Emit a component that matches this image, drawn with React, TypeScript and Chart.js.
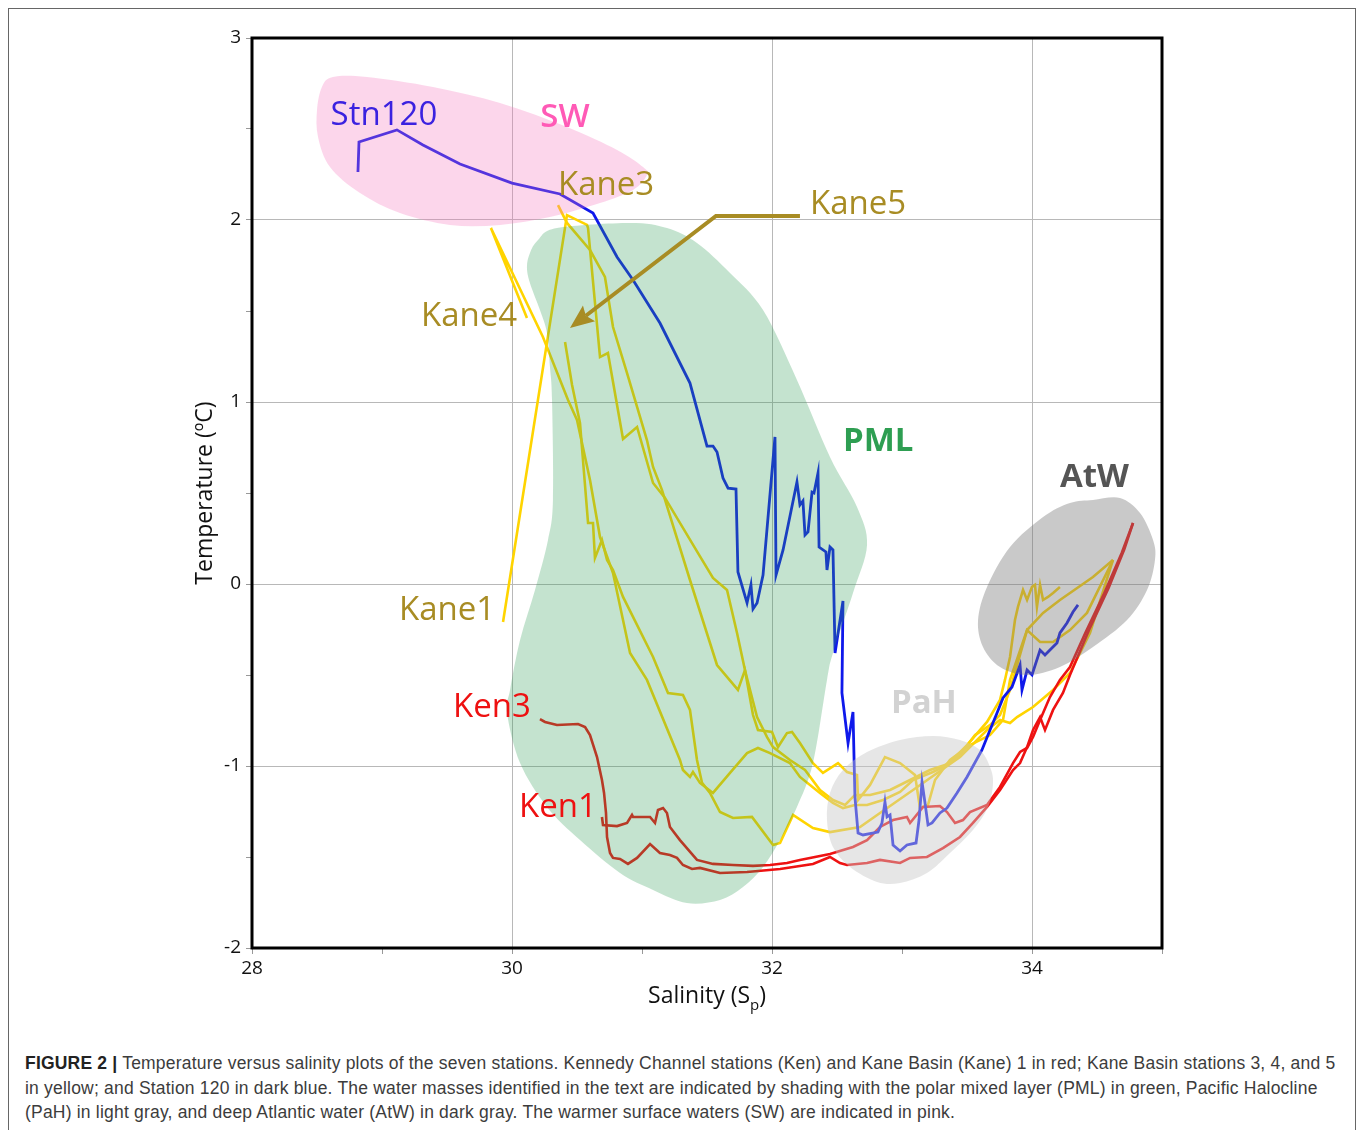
import React, { useEffect, useRef } from "react";
import { Chart, registerables } from "chart.js";
Chart.register(...registerables);

// ---------- axis ticks ----------
const xTickLabels = [28, 30, 32, 34];
const yTickLabels = [-2, -1, 0, 1, 2, 3];

// ---------- series (salinity, temperature) ----------
const stn120Sal = [28.815,28.823,29.115,29.315,29.6,30.0,30.369,30.623,30.808,30.931,31.138,31.369,31.5,31.546,31.577,31.623,31.662,31.723,31.738,31.808,31.838,31.854,31.885,31.931,32.023,32.031,32.085,32.192,32.215,32.238,32.254,32.277,32.308,32.323,32.354,32.362,32.415,32.423,32.446,32.469,32.485,32.546,32.538,32.585,32.623,32.638,32.662,32.7,32.815,32.846,32.869,32.885,32.908,32.931,32.985,33.038,33.108,33.131,33.154,33.177,33.2,33.231,33.292,33.346,33.423,33.5,33.615,33.677,33.731,33.777,33.846,33.908,33.923,33.962,34.0,34.062,34.1,34.138,34.192,34.215,34.269,34.315,34.354];
const stn120Temp = [2.264,2.429,2.495,2.412,2.308,2.203,2.143,2.038,1.797,1.670,1.434,1.104,0.758,0.758,0.725,0.582,0.527,0.522,0.066,-0.104,-0.005,-0.137,-0.104,0.049,0.808,0.049,0.187,0.560,0.434,0.456,0.269,0.286,0.505,0.5,0.610,0.203,0.176,0.077,0.203,0.187,-0.379,-0.093,-0.599,-0.874,-0.703,-1.170,-1.368,-1.379,-1.363,-1.313,-1.198,-1.280,-1.269,-1.434,-1.467,-1.434,-1.423,-1.297,-1.088,-1.203,-1.324,-1.313,-1.258,-1.231,-1.148,-1.060,-0.912,-0.802,-0.709,-0.626,-0.566,-0.445,-0.582,-0.473,-0.5,-0.363,-0.390,-0.363,-0.324,-0.269,-0.214,-0.154,-0.115];

const ken3Sal = [30.215,30.254,30.346,30.508,30.562,30.6,30.654,30.692,30.708,30.723,30.731,30.754,30.777,30.831,30.892,30.962,31.062,31.138,31.215,31.269,31.315,31.385,31.446,31.6,31.808,32.062,32.315,32.446,32.523,32.577,32.731,32.831,32.985,33.062,33.192,33.315,33.446,33.546,33.654,33.754,33.854,33.908,33.962,34.008,34.062,34.1,34.162,34.238,34.292,34.44,34.59,34.71,34.777];
const ken3Temp = [-0.742,-0.758,-0.775,-0.769,-0.786,-0.830,-0.951,-1.077,-1.148,-1.258,-1.390,-1.478,-1.505,-1.511,-1.538,-1.505,-1.429,-1.478,-1.489,-1.505,-1.544,-1.566,-1.560,-1.588,-1.582,-1.566,-1.538,-1.5,-1.533,-1.544,-1.533,-1.516,-1.533,-1.505,-1.5,-1.451,-1.390,-1.313,-1.225,-1.132,-1.022,-0.984,-0.896,-0.802,-0.731,-0.802,-0.692,-0.599,-0.5,-0.25,-0.02,0.19,0.335];

const ken1Sal = [30.692,30.7,30.808,30.885,30.923,30.931,31.062,31.1,31.123,31.162,31.192,31.215,31.292,31.423,31.546,31.7,31.854,31.985,32.115,32.215,32.446,32.623,32.731,32.831,32.931,33.038,33.062,33.162,33.292,33.346,33.408,33.469,33.523,33.654,33.754,33.854,33.908,33.962,34.008,34.062,34.138,34.215,34.292,34.41,34.55,34.69,34.777];
const ken1Temp = [-1.280,-1.324,-1.330,-1.313,-1.269,-1.280,-1.280,-1.313,-1.242,-1.231,-1.258,-1.335,-1.407,-1.516,-1.538,-1.544,-1.549,-1.544,-1.533,-1.516,-1.484,-1.445,-1.407,-1.335,-1.297,-1.280,-1.313,-1.225,-1.220,-1.253,-1.313,-1.297,-1.253,-1.214,-1.115,-0.984,-0.923,-0.901,-0.841,-0.747,-0.621,-0.527,-0.456,-0.27,-0.06,0.17,0.335];

const kane4Sal = [30.115,29.838,30.238,30.431,30.5,30.6,30.677,30.777,30.908,31.038,31.292,31.315,31.369,31.392,31.446,31.546,31.677,31.808,31.892,31.985,32.138,32.215,32.369,32.469,32.546,32.638,32.731,32.854,32.985,33.085,33.238,33.346,33.5,33.654,33.754,33.792,33.831,33.869,33.892,33.931,33.962,34.0,34.023,34.038,34.062,34.085,34.123,34.162,34.215];
const kane4Temp = [1.462,1.956,1.357,1.011,0.901,0.571,0.258,0.060,-0.379,-0.527,-0.967,-1.022,-1.060,-1.033,-1.093,-1.148,-1.038,-0.929,-0.901,-0.929,-0.984,-1.060,-1.148,-1.203,-1.231,-1.214,-1.214,-1.187,-1.143,-1.077,-1.033,-0.995,-0.885,-0.758,-0.637,-0.527,-0.401,-0.198,-0.126,-0.033,-0.088,-0.016,-0.005,-0.126,-0.005,-0.088,-0.071,-0.049,-0.016];

const kaneBSal = [30.408,30.462,30.523,30.585,30.623,30.638,30.692,30.731,30.777,30.854,31.085,31.2,31.315,31.369,31.423,31.462,31.523,31.6,31.7,31.846,32.008,32.062,32.162,32.315,32.446,32.677,32.831,33.085,33.446,33.654,33.754,33.831,33.885,34.008,34.162,34.292,34.446,34.623];
const kaneBTemp = [1.330,1.093,0.885,0.335,0.335,0.143,0.242,0.132,0.077,-0.071,-0.401,-0.599,-0.610,-0.692,-0.967,-1.093,-1.148,-1.253,-1.286,-1.280,-1.434,-1.423,-1.269,-1.341,-1.363,-1.335,-1.258,-1.132,-0.951,-0.802,-0.747,-0.764,-0.731,-0.676,-0.582,-0.489,-0.269,0.132];

const kane1Sal = [29.931,30.423,30.577,30.585,30.677,30.738,30.854,30.962,31.085,31.177,31.431,31.546,31.654,31.731,31.792,31.854,31.892,32.0,32.046,32.115,32.154,32.215,32.315,32.392,32.508,32.577,32.654,32.662,32.754,32.869,32.985,33.1,33.138,33.2,33.254,33.369,33.523,33.677,33.777,33.831,33.962,34.085,34.215,34.469,34.623];
const kane1Temp = [-0.209,2.027,1.973,1.956,1.247,1.269,0.797,0.863,0.555,0.473,0.170,0.033,-0.033,-0.269,-0.473,-0.720,-0.802,-0.813,-0.896,-0.819,-0.813,-0.874,-0.984,-1.038,-0.984,-1.033,-1.049,-1.187,-1.104,-0.951,-0.984,-1.049,-1.231,-1.214,-1.077,-0.967,-0.885,-0.830,-0.747,-0.527,-0.253,-0.159,-0.088,0.038,0.132];

const kane3Sal = [30.354,30.423,30.6,30.715,30.777,30.885,31.038,31.085,31.154,31.369,31.577,31.738,31.792,31.885,31.962,32.008,32.138,32.254,32.369,32.469,32.562,32.638,32.754,32.908,33.062,33.215,33.331,33.446,33.562,33.677,33.754,33.831,33.962,34.062,34.162,34.292,34.423,34.623];
const kane3Temp = [2.082,1.984,1.835,1.687,1.412,1.159,0.791,0.643,0.516,0.022,-0.445,-0.582,-0.473,-0.731,-0.841,-0.896,-0.967,-1.022,-1.132,-1.187,-1.214,-1.159,-1.159,-1.132,-1.077,-1.022,-0.995,-0.940,-0.830,-0.775,-0.720,-0.582,-0.253,-0.319,-0.319,-0.253,-0.159,0.132];

// ---------- water-mass outlines (salinity, temperature) ----------
const swSal = [28.623,28.885,29.392,29.908,30.423,30.808,31.008,31.038,30.931,30.677,30.292,29.908,29.523,29.138,28.831,28.6,28.508,28.5,28.538];
const swTemp = [2.786,2.786,2.731,2.643,2.511,2.385,2.291,2.247,2.165,2.093,2.016,1.973,1.973,2.038,2.148,2.291,2.456,2.604,2.731];
const pmlSal = [30.346,30.908,31.192,31.423,31.677,31.931,32.192,32.446,32.654,32.731,32.623,32.469,32.423,32.315,32.192,32.062,31.931,31.777,31.6,31.346,31.085,30.831,30.523,30.269,30.062,29.962,29.985,30.062,30.177,30.277,30.315,30.308,30.292,30.269,30.215,30.138,30.115,30.138,30.2];
const pmlTemp = [1.956,1.984,1.956,1.874,1.709,1.505,1.121,0.698,0.423,0.214,-0.049,-0.379,-0.527,-0.984,-1.225,-1.407,-1.555,-1.665,-1.736,-1.753,-1.681,-1.588,-1.407,-1.225,-0.984,-0.709,-0.582,-0.308,-0.033,0.242,0.462,1.011,1.192,1.379,1.505,1.654,1.742,1.819,1.890];
const pahSal = [32.446,32.546,32.731,32.985,33.238,33.446,33.6,33.677,33.7,33.662,33.546,33.369,33.192,32.985,32.808,32.6,32.469,32.423];
const pahTemp = [-1.148,-1.022,-0.923,-0.857,-0.835,-0.857,-0.912,-1.005,-1.093,-1.225,-1.352,-1.478,-1.588,-1.643,-1.637,-1.555,-1.445,-1.297];
const atwSal = [34.469,34.677,34.831,34.931,34.946,34.885,34.731,34.469,34.215,33.962,33.754,33.623,33.585,33.654,33.831,34.085,34.292];
const atwTemp = [0.462,0.473,0.390,0.242,0.132,-0.033,-0.198,-0.346,-0.456,-0.5,-0.456,-0.346,-0.198,-0.016,0.203,0.368,0.445];

// Kane5 pointer (salinity, temperature)
const arrowSal = [32.215, 31.569, 30.446];
const arrowTemp = [2.022, 2.022, 1.407];

const labelTexts = ["Stn120", "SW", "Kane3", "Kane5", "Kane4", "Kane1", "Ken3", "Ken1", "PML", "PaH", "AtW"];
const labelSal = [29.015, 30.408, 30.354, 32.292, 29.3, 29.131, 29.546, 30.054, 32.546, 32.915, 34.215];
const labelTemp = [2.571, 2.56, 2.187, 2.082, 1.467, -0.148, -0.681, -1.231, 0.78, -0.659, 0.582];

const zip = (s: number[], t: number[]) => {
  const n = Math.min(s.length, t.length);
  const out: { x: number; y: number }[] = [];
  for (let i = 0; i < n; i++) out.push({ x: s[i], y: t[i] });
  return out;
};

const BLUE = "rgb(15,25,235)";
const YELLOW = "rgb(255,212,0)";
const RED = "rgb(238,18,18)";
const OLIVE = "#a88c24";

const labelStyles: Record<string, { color: string; weight: string; align: CanvasTextAlign }> = {
  Stn120: { color: "#3b22e0", weight: "400", align: "center" },
  SW: { color: "#ff5ab6", weight: "600", align: "center" },
  Kane3: { color: OLIVE, weight: "400", align: "left" },
  Kane5: { color: OLIVE, weight: "400", align: "left" },
  Kane4: { color: OLIVE, weight: "400", align: "left" },
  Kane1: { color: OLIVE, weight: "400", align: "left" },
  Ken3: { color: "#ee1111", weight: "400", align: "left" },
  Ken1: { color: "#ee1111", weight: "400", align: "left" },
  PML: { color: "#2e9e52", weight: "700", align: "left" },
  PaH: { color: "#d2d2d2", weight: "700", align: "left" },
  AtW: { color: "#555555", weight: "700", align: "left" },
};

function smoothClosed(ctx: CanvasRenderingContext2D, pts: { x: number; y: number }[]) {
  const n = pts.length;
  ctx.beginPath();
  ctx.moveTo(pts[0].x, pts[0].y);
  for (let i = 0; i < n; i++) {
    const p0 = pts[(i - 1 + n) % n], p1 = pts[i], p2 = pts[(i + 1) % n], p3 = pts[(i + 2) % n];
    ctx.bezierCurveTo(
      p1.x + (p2.x - p0.x) / 6, p1.y + (p2.y - p0.y) / 6,
      p2.x - (p3.x - p1.x) / 6, p2.y - (p3.y - p1.y) / 6,
      p2.x, p2.y
    );
  }
  ctx.closePath();
}

const FONT = "'Open Sans', 'Noto Sans', sans-serif";

const overlayPlugin = {
  id: "overlays",
  afterDatasetsDraw(chart: any) {
    const { ctx, chartArea, scales } = chart;
    const xs = scales.x, ys = scales.y;
    const px = (s: number[], t: number[]) => zip(s, t).map((p) => ({ x: xs.getPixelForValue(p.x), y: ys.getPixelForValue(p.y) }));
    ctx.save();
    ctx.beginPath();
    ctx.rect(chartArea.left, chartArea.top, chartArea.right - chartArea.left, chartArea.bottom - chartArea.top);
    ctx.clip();
    const blobs: [number[], number[], string][] = [
      [swSal, swTemp, "rgba(245,120,190,0.3)"],
      [pmlSal, pmlTemp, "rgba(50,160,90,0.29)"],
      [pahSal, pahTemp, "rgba(200,200,200,0.45)"],
      [atwSal, atwTemp, "rgba(120,120,120,0.4)"],
    ];
    for (const [s, t, c] of blobs) {
      smoothClosed(ctx, px(s, t));
      ctx.fillStyle = c;
      ctx.fill();
    }
    // arrow
    const a = px(arrowSal, arrowTemp);
    const tip = a[a.length - 1], prev = a[a.length - 2];
    const ang = Math.atan2(tip.y - prev.y, tip.x - prev.x);
    const hl = 24, hw = 10;
    const bx = tip.x - hl * Math.cos(ang), by = tip.y - hl * Math.sin(ang);
    ctx.strokeStyle = OLIVE;
    ctx.lineWidth = 4;
    ctx.lineJoin = "miter";
    ctx.beginPath();
    ctx.moveTo(a[0].x, a[0].y);
    for (let i = 1; i < a.length - 1; i++) ctx.lineTo(a[i].x, a[i].y);
    ctx.lineTo(bx + 4 * Math.cos(ang), by + 4 * Math.sin(ang));
    ctx.stroke();
    ctx.fillStyle = OLIVE;
    ctx.beginPath();
    ctx.moveTo(tip.x, tip.y);
    ctx.lineTo(bx - hw * Math.sin(ang), by + hw * Math.cos(ang));
    ctx.lineTo(bx + 4 * Math.cos(ang), by + 4 * Math.sin(ang));
    ctx.lineTo(bx + hw * Math.sin(ang), by - hw * Math.cos(ang));
    ctx.closePath();
    ctx.fill();
    ctx.restore();

    // labels
    ctx.save();
    ctx.textBaseline = "middle";
    labelTexts.forEach((txt, i) => {
      const st = labelStyles[txt];
      ctx.font = `${st.weight} 33px ${FONT}`;
      ctx.fillStyle = st.color;
      ctx.textAlign = st.align;
      ctx.fillText(txt, xs.getPixelForValue(labelSal[i]), ys.getPixelForValue(labelTemp[i]));
    });
    ctx.restore();

    // frame
    ctx.save();
    ctx.strokeStyle = "#000";
    ctx.lineWidth = 3;
    ctx.strokeRect(chartArea.left, chartArea.top, chartArea.right - chartArea.left, chartArea.bottom - chartArea.top);
    ctx.restore();

    // axis titles
    ctx.save();
    ctx.fillStyle = "#111";
    ctx.font = `400 23px ${FONT}`;
    const cx = (chartArea.left + chartArea.right) / 2;
    const base = chartArea.bottom + 55;
    const p1 = "Salinity (S", p2 = "p", p3 = ")";
    const w1 = ctx.measureText(p1).width;
    const w3 = ctx.measureText(p3).width;
    ctx.font = `400 15px ${FONT}`;
    const w2 = ctx.measureText(p2).width;
    let sx = cx - (w1 + w2 + w3) / 2;
    ctx.textAlign = "left";
    ctx.textBaseline = "alphabetic";
    ctx.font = `400 23px ${FONT}`;
    ctx.fillText(p1, sx, base);
    sx += w1;
    ctx.font = `400 15px ${FONT}`;
    ctx.fillText(p2, sx, base + 7);
    sx += w2;
    ctx.font = `400 23px ${FONT}`;
    ctx.fillText(p3, sx, base);
    ctx.translate(chartArea.left - 47, (chartArea.top + chartArea.bottom) / 2);
    ctx.rotate(-Math.PI / 2);
    ctx.textAlign = "center";
    ctx.textBaseline = "middle";
    ctx.fillText("Temperature (\u00BAC)", 0, 0);
    ctx.restore();
  },
};

function TSChart() {
  const ref = useRef<HTMLCanvasElement | null>(null);
  useEffect(() => {
    if (!ref.current) return;
    const line = (label: string, data: any[], color: string, w: number) => ({
      label,
      data,
      showLine: true,
      borderColor: color,
      backgroundColor: color,
      borderWidth: w,
      pointRadius: 0,
      tension: 0,
    });
    const chart = new Chart(ref.current, {
      type: "scatter",
      data: {
        datasets: [
          line("Stn120", zip(stn120Sal, stn120Temp), BLUE, 2.8),
          line("Ken1", zip(ken1Sal, ken1Temp), RED, 2.6),
          line("Ken3", zip(ken3Sal, ken3Temp), RED, 2.6),
          line("Kane1", zip(kane1Sal, kane1Temp), YELLOW, 2.6),
          line("Kane3", zip(kane3Sal, kane3Temp), YELLOW, 2.6),
          line("Kane4", zip(kane4Sal, kane4Temp), YELLOW, 2.6),
          line("KaneB", zip(kaneBSal, kaneBTemp), YELLOW, 2.6),
        ],
      },
      options: {
        animation: false,
        responsive: false,
        layout: { padding: { top: 29, right: 147, left: 0, bottom: 0 } },
        plugins: { legend: { display: false }, tooltip: { enabled: false } },
        scales: {
          x: {
            type: "linear",
            min: 28,
            max: 35,
            border: { display: false },
            afterFit: (s: any) => { s.height = 91; },
            ticks: {
              stepSize: 1,
              autoSkip: false,
              maxRotation: 0,
              padding: 3,
              color: "#111",
              font: { family: FONT, size: 19 },
              callback: (v: any) => (xTickLabels.includes(Number(v)) ? String(v) : ""),
            },
            grid: {
              drawTicks: true,
              tickLength: 6,
              lineWidth: 1,
              color: (c: any) => (c.tick && [30, 32, 34].includes(c.tick.value) ? "#b8b8b8" : "rgba(0,0,0,0)"),
              tickColor: "#999",
            },
          },
          y: {
            type: "linear",
            min: -2,
            max: 3,
            border: { display: false },
            afterFit: (s: any) => { s.width = 243; },
            ticks: {
              stepSize: 0.5,
              autoSkip: false,
              padding: 5,
              color: "#111",
              font: { family: FONT, size: 19 },
              callback: (v: any) => (yTickLabels.includes(Number(v)) ? String(v) : ""),
            },
            grid: {
              drawTicks: true,
              tickLength: 6,
              lineWidth: 1,
              color: (c: any) => (c.tick && [-1, 0, 1, 2].includes(c.tick.value) ? "#b8b8b8" : "rgba(0,0,0,0)"),
              tickColor: "#999",
            },
          },
        },
      },
      plugins: [overlayPlugin],
    } as any);
    return () => chart.destroy();
  }, []);
  return <canvas ref={ref} width={1300} height={1030} style={{ position: "absolute", left: 0, top: 0 }} />;
}

export default function App() {
  const capStyle: React.CSSProperties = { whiteSpace: "nowrap", height: 24.5, lineHeight: "24.5px" };
  return (
    <div
      style={{
        position: "fixed",
        left: 8,
        top: 8,
        boxSizing: "border-box",
        width: 1348,
        height: 1122,
        borderTop: "1px solid #666",
        borderLeft: "1px solid #666",
        borderRight: "1px solid #666",
        background: "#fff",
        overflow: "hidden",
      }}
    >
      <TSChart />
      <div
        style={{
          position: "absolute",
          left: 16,
          top: 1042,
          fontFamily: "'Liberation Sans', Arial, sans-serif",
          fontSize: 17.5,
          letterSpacing: "0.2px",
          color: "#3c3c3c",
        }}
      >
        <div style={capStyle}>
          <b style={{ color: "#222" }}>FIGURE 2 |</b> Temperature versus salinity plots of the seven stations. Kennedy Channel stations (Ken) and Kane Basin (Kane) 1 in red; Kane Basin stations 3, 4, and 5
        </div>
        <div style={capStyle}>
          in yellow; and Station 120 in dark blue. The water masses identified in the text are indicated by shading with the polar mixed layer (PML) in green, Pacific Halocline
        </div>
        <div style={capStyle}>
          (PaH) in light gray, and deep Atlantic water (AtW) in dark gray. The warmer surface waters (SW) are indicated in pink.
        </div>
      </div>
    </div>
  );
}
